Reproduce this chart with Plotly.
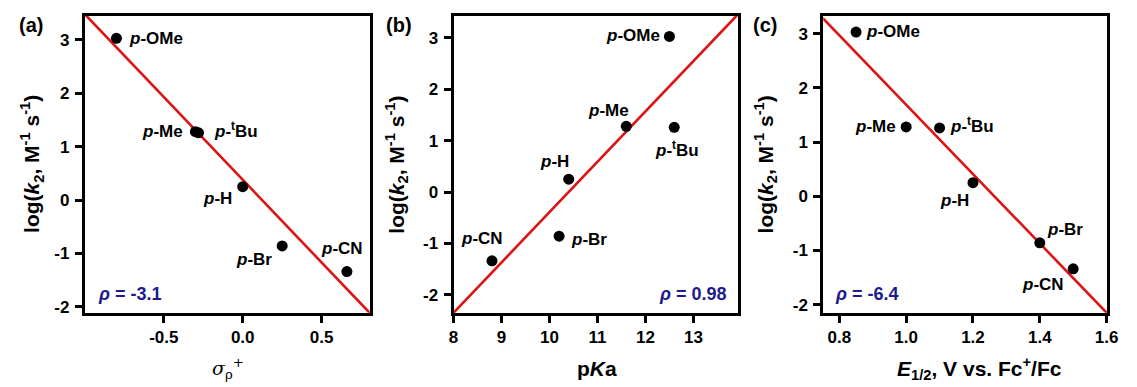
import plotly.graph_objects as go

# Substituent series (same order in every panel)
substituents = ["OMe", "Me", "tBu", "H", "Br", "CN"]
log_k2 = [3.03, 1.28, 1.26, 0.25, -0.86, -1.34]

# Panel (a): Hammett sigma_p+ constants
sigma_p = [-0.80, -0.30, -0.28, 0.00, 0.25, 0.66]
rho_a, icpt_a = -3.1, 0.38

# Panel (b): pKa values
pka = [12.5, 11.6, 12.6, 10.4, 10.2, 8.8]
rho_b, icpt_b = 0.98, -10.19

# Panel (c): half-wave potentials, V vs. Fc+/Fc
e_half = [0.85, 1.00, 1.10, 1.20, 1.40, 1.50]
rho_c, icpt_c = -6.4, 8.09

x_ranges = [[-1.0, 0.805], [8.0, 13.92], [0.752, 1.602]]
y_ranges = [[-2.11, 3.45], [-2.35, 3.43], [-2.15, 3.33]]
x_ticks = [[-0.5, 0.0, 0.5], [8, 9, 10, 11, 12, 13], [0.8, 1.0, 1.2, 1.4, 1.6]]
x_ticktext = [["-0.5", "0.0", "0.5"], ["8", "9", "10", "11", "12", "13"],
              ["0.8", "1.0", "1.2", "1.4", "1.6"]]
y_ticks = [-2, -1, 0, 1, 2, 3]
y_ticktext = ["-2", "-1", "0", "1", "2", "3"]

W, H = 1137, 387
FONT = "Liberation Sans, Arial, sans-serif"
RED = "#dc1414"
NAVY = "#1c1c8c"

# plot-area pixel boxes (left, right) and shared top/bottom
px_left = [81, 455, 830]
px_right = [370, 743, 1118]
px_top, px_bottom = 16, 316

fig = go.Figure()

panels = [
    (sigma_p, rho_a, icpt_a),
    (pka, rho_b, icpt_b),
    (e_half, rho_c, icpt_c),
]

for i, (xs, rho, icpt) in enumerate(panels):
    xa = "x" if i == 0 else f"x{i+1}"
    ya = "y" if i == 0 else f"y{i+1}"
    lo, hi = x_ranges[i]
    span = hi - lo
    fx = [lo - 0.2 * span, hi + 0.2 * span]
    fig.add_trace(go.Scatter(
        x=fx, y=[rho * v + icpt for v in fx], mode="lines",
        line=dict(color=RED, width=2.6), xaxis=xa, yaxis=ya,
        showlegend=False, hoverinfo="skip"))
    fig.add_trace(go.Scatter(
        x=xs, y=log_k2, mode="markers",
        marker=dict(color="black", size=11), xaxis=xa, yaxis=ya,
        showlegend=False, cliponaxis=False))

    axis_common = dict(
        showline=True, linecolor="black", linewidth=3, mirror=True,
        ticks="outside", ticklen=7, tickwidth=2.5, tickcolor="black",
        showgrid=False, zeroline=False,
        tickfont=dict(family=FONT, size=17, color="black", weight="bold"),
    )
    xkey = "xaxis" if i == 0 else f"xaxis{i+1}"
    ykey = "yaxis" if i == 0 else f"yaxis{i+1}"
    fig.layout[xkey] = dict(
        axis_common, domain=[px_left[i] / W, px_right[i] / W],
        range=x_ranges[i], tickvals=x_ticks[i], ticktext=x_ticktext[i],
        anchor=ya)
    fig.layout[ykey] = dict(
        axis_common, domain=[1 - px_bottom / H, 1 - px_top / H],
        range=y_ranges[i], tickvals=y_ticks, ticktext=y_ticktext,
        anchor=xa, ticklabelstandoff=2)

# label placement: (xanchor, xshift, yshift) per substituent and panel
label_text = {
    "OMe": "<i>p</i>-OMe", "Me": "<i>p</i>-Me", "tBu": "<i>p</i>-<sup>t</sup>Bu",
    "H": "<i>p</i>-H", "Br": "<i>p</i>-Br", "CN": "<i>p</i>-CN",
}
label_pos = [
    {"OMe": ("left", 11, 0), "Me": ("right", -10, 0), "tBu": ("left", 13, 3),
     "H": ("right", -9, -12), "Br": ("right", -8, -14), "CN": ("center", -5, 23)},
    {"OMe": ("right", -7, 1), "Me": ("center", -18, 16), "tBu": ("center", 3, -22),
     "H": ("center", -14, 18), "Br": ("left", 10, -3), "CN": ("center", -10, 22)},
    {"OMe": ("left", 8, 1), "Me": ("right", -8, 0), "tBu": ("left", 8, 3),
     "H": ("right", -2, -18), "Br": ("left", 5, 13), "CN": ("center", -30, -16)},
]
panel_x = [sigma_p, pka, e_half]

annotations = []
for i in range(3):
    xa = "x" if i == 0 else f"x{i+1}"
    ya = "y" if i == 0 else f"y{i+1}"
    for j, s in enumerate(substituents):
        anc, dx, dy = label_pos[i][s]
        annotations.append(dict(
            x=panel_x[i][j], y=log_k2[j], xref=xa, yref=ya,
            text=f"<b>{label_text[s]}</b>", showarrow=False,
            xanchor=anc, yanchor="middle", xshift=dx, yshift=dy,
            font=dict(family=FONT, size=17, color="black")))

# rho values
rho_labels = [
    (f"<b><i>ρ</i> = {rho_a}</b>", 92 / W, "left"),
    (f"<b><i>ρ</i> = {rho_b}</b>", 733 / W, "right"),
    (f"<b><i>ρ</i> = {rho_c}</b>", 840 / W, "left"),
]
for txt, xp, anc in rho_labels:
    annotations.append(dict(
        x=xp, y=1 - 297 / H, xref="paper", yref="paper", text=txt,
        showarrow=False, xanchor=anc, yanchor="middle",
        font=dict(family=FONT, size=18, color=NAVY)))

# panel tags
for tag, xp in [("(a)", 12), ("(b)", 384), ("(c)", 757)]:
    annotations.append(dict(
        x=xp / W, y=1 - 25 / H, xref="paper", yref="paper",
        text=f"<b>{tag}</b>", showarrow=False, xanchor="left",
        yanchor="middle", font=dict(family=FONT, size=20, color="black")))

# y-axis titles
ytitle = "<b>log(<i>k</i><sub>2</sub>, M<sup>-1</sup> s<sup>-1</sup>)</b>"
for xp in [27, 397, 771]:
    annotations.append(dict(
        x=xp / W, y=1 - 166 / H, xref="paper", yref="paper", text=ytitle,
        showarrow=False, textangle=-90, xanchor="center", yanchor="middle",
        font=dict(family=FONT, size=21, color="black")))

# x-axis titles
x_titles = [
    ("<i>σ</i><sub>ρ</sub><sup>+</sup>", 226, dict(family="DejaVu Serif, serif", size=19)),
    ("<b>p<i>K</i>a</b>", 600, dict(family=FONT, size=21)),
    ("<b><i>E</i><sub>1/2</sub>, V vs. Fc<sup>+</sup>/Fc</b>", 988, dict(family=FONT, size=21)),
]
for txt, xp, f in x_titles:
    annotations.append(dict(
        x=xp / W, y=1 - 372 / H, xref="paper", yref="paper", text=txt,
        showarrow=False, xanchor="center", yanchor="middle",
        font=dict(f, color="black")))

fig.update_layout(
    width=W, height=H, autosize=False,
    margin=dict(l=0, r=0, t=0, b=0),
    paper_bgcolor="white", plot_bgcolor="white",
    annotations=annotations,
    showlegend=False,
)

fig.write_html("out.html")
